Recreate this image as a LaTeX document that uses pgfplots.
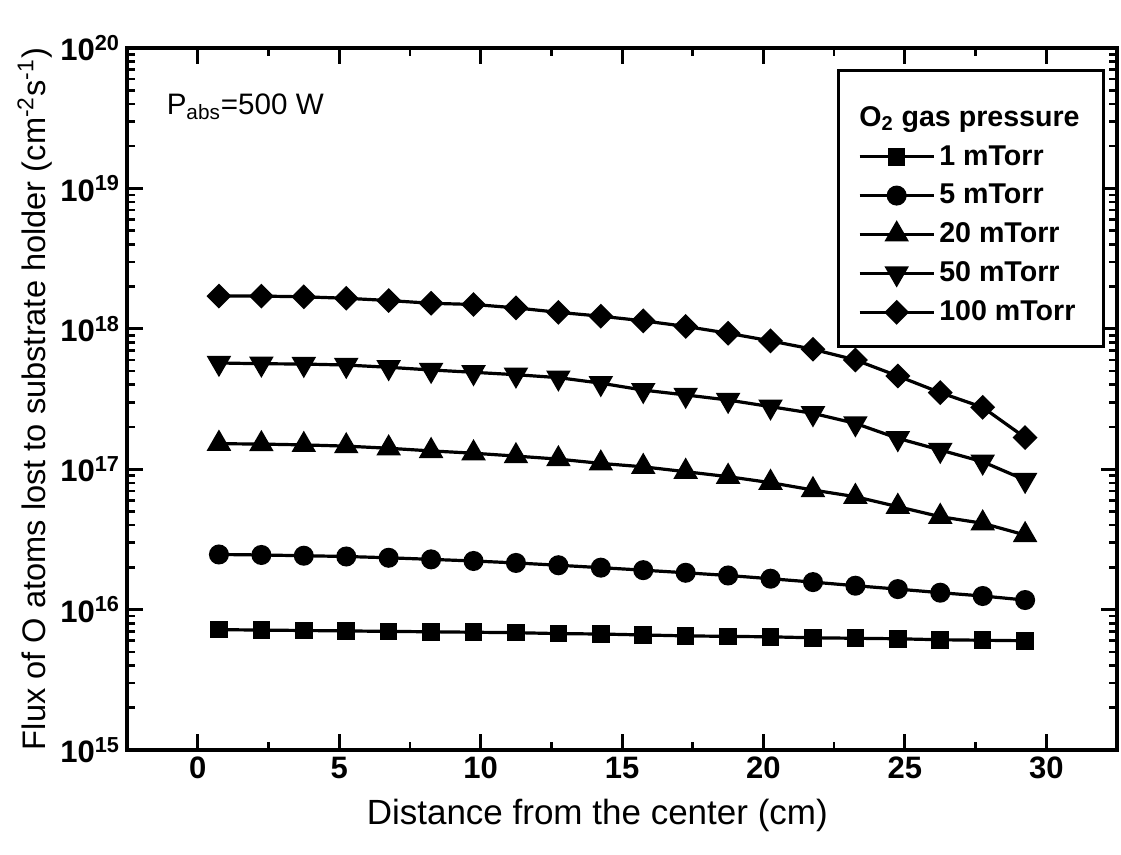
\documentclass[border=0pt]{standalone}
\usepackage{pgfplots}
\pgfplotsset{compat=1.18}
\usepackage{fontspec}
\setmainfont{Liberation Sans}

\begin{document}
\begin{tikzpicture}
\begin{axis}[
  scale only axis, width=495pt, height=351pt,
  xmin=-2.5, xmax=32.5, ymin=1e15, ymax=1e20, ymode=log,
  xtick={0,5,...,30}, minor x tick num=1,
  ytick={1e15,1e16,1e17,1e18,1e19,1e20},
  yticklabels={10\textsuperscript{15},10\textsuperscript{16},10\textsuperscript{17},10\textsuperscript{18},10\textsuperscript{19},10\textsuperscript{20}},
  axis line style={line width=2pt},
  major tick style={black, line width=1.5pt},
  minor tick style={black, line width=1.3pt},
  major tick length=8pt, minor tick length=4pt,
  tick align=inside,
  ticklabel style={font=\fontsize{15.5}{18}\selectfont\bfseries},
  /pgf/number format/assume math mode=true,
  xlabel={Distance from the center (cm)},
  ylabel={Flux of O atoms lost to substrate holder (cm\textsuperscript{-2}s\textsuperscript{-1})},
  every axis x label/.style={at={(rel axis cs:0.475,-0.0926)},anchor=center,font=\fontsize{17.5}{20}\selectfont},
  every axis y label/.style={at={(rel axis cs:-0.093,0.5)},rotate=90,anchor=center,font=\fontsize{16.3}{19}\selectfont},
  clip=false,
  legend style={at={(rel axis cs:0.988,0.970)}, anchor=north east, draw=black, line width=1.5pt,
    inner xsep=10pt, inner ysep=9.5pt, font=\fontsize{14.3}{17}\selectfont\bfseries,
    row sep=4pt},
  legend cell align=left,
  legend image code/.code={\draw[mark repeat=2,mark phase=2,#1] plot coordinates {(0pt,0pt) (18.5pt,0pt) (37pt,0pt)};},
]
\path (rel axis cs:-0.1283,-0.1481) rectangle (rel axis cs:1.004,1.0684);
\node[anchor=base west, font=\fontsize{14.8}{17}\selectfont] at (rel axis cs:0.033,0.905) {P\textsubscript{abs}=500 W};

\addlegendimage{empty legend}
\addlegendentry{\hspace{-40pt}\rule{0pt}{16.5pt}O\textsubscript{2} gas pressure}

\addplot[black, line width=1.6pt, mark=square*, mark size=3.6pt] coordinates {
(0.75,7.2e15) (2.25,7.15e15) (3.75,7.1e15) (5.25,7.05e15) (6.75,7.0e15)
(8.25,6.95e15) (9.75,6.9e15) (11.25,6.85e15) (12.75,6.75e15) (14.25,6.7e15)
(15.75,6.6e15) (17.25,6.5e15) (18.75,6.45e15) (20.25,6.4e15) (21.75,6.3e15)
(23.25,6.25e15) (24.75,6.2e15) (26.25,6.1e15) (27.75,6.05e15) (29.25,6.0e15)};
\addlegendentry{1 mTorr}

\addplot[black, line width=1.6pt, mark=*, mark size=4.2pt] coordinates {
(0.75,2.47e16) (2.25,2.45e16) (3.75,2.42e16) (5.25,2.39e16) (6.75,2.34e16)
(8.25,2.28e16) (9.75,2.22e16) (11.25,2.15e16) (12.75,2.07e16) (14.25,1.99e16)
(15.75,1.91e16) (17.25,1.83e16) (18.75,1.75e16) (20.25,1.66e16) (21.75,1.57e16)
(23.25,1.48e16) (24.75,1.40e16) (26.25,1.32e16) (27.75,1.25e16) (29.25,1.17e16)};
\addlegendentry{5 mTorr}

\addplot[black, line width=1.6pt, mark=triangle*, mark size=5.5pt] coordinates {
(0.75,1.52e17) (2.25,1.51e17) (3.75,1.49e17) (5.25,1.46e17) (6.75,1.41e17)
(8.25,1.35e17) (9.75,1.30e17) (11.25,1.24e17) (12.75,1.18e17) (14.25,1.10e17)
(15.75,1.04e17) (17.25,9.6e16) (18.75,8.85e16) (20.25,8.02e16) (21.75,7.11e16)
(23.25,6.37e16) (24.75,5.41e16) (26.25,4.59e16) (27.75,4.12e16) (29.25,3.40e16)};
\addlegendentry{20 mTorr}

\addplot[black, line width=1.6pt, mark=triangle*, mark size=5.5pt, mark options={rotate=180}] coordinates {
(0.75,5.71e17) (2.25,5.64e17) (3.75,5.61e17) (5.25,5.52e17) (6.75,5.32e17)
(8.25,5.09e17) (9.75,4.90e17) (11.25,4.71e17) (12.75,4.49e17) (14.25,4.10e17)
(15.75,3.66e17) (17.25,3.38e17) (18.75,3.11e17) (20.25,2.79e17) (21.75,2.50e17)
(23.25,2.12e17) (24.75,1.66e17) (26.25,1.37e17) (27.75,1.13e17) (29.25,8.38e16)};
\addlegendentry{50 mTorr}

\addplot[black, line width=1.6pt, mark=square*, mark size=3.6pt, mark options={rotate=45}] coordinates {
(0.75,1.71e18) (2.25,1.71e18) (3.75,1.69e18) (5.25,1.65e18) (6.75,1.59e18)
(8.25,1.52e18) (9.75,1.49e18) (11.25,1.41e18) (12.75,1.31e18) (14.25,1.23e18)
(15.75,1.14e18) (17.25,1.04e18) (18.75,9.3e17) (20.25,8.2e17) (21.75,7.15e17)
(23.25,6.0e17) (24.75,4.61e17) (26.25,3.51e17) (27.75,2.76e17) (29.25,1.68e17)};
\addlegendentry{100 mTorr\hspace{5pt}}
\end{axis}
\end{tikzpicture}
\end{document}
